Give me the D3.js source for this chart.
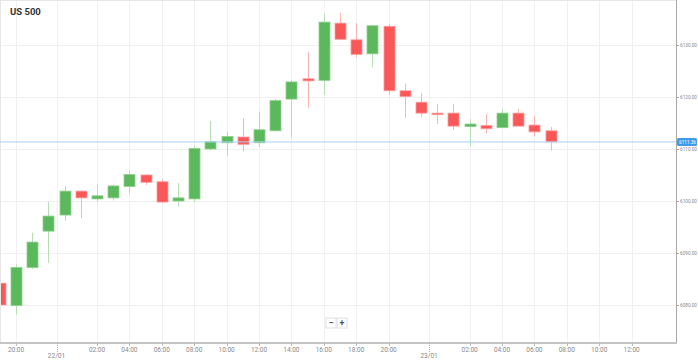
<!DOCTYPE html>
<html>
<head>
<meta charset="utf-8">
<script src="https://cdn.jsdelivr.net/npm/d3@7"></script>
<style>
  body { margin: 0; background: #fff; }
  svg { display: block; font-family: Roboto, "Open Sans", sans-serif; }
</style>
</head>
<body>
<div id="chart"></div>
<script>
// hourly candles, index 0 = 21/01 20:00 (one hour missing at each day break)
var candleIndex = d3.range(-1, 34);
var opens  = [6084.2, 6079.9, 6087.2, 6094.2, 6097.3, 6101.9, 6100.4, 6100.6, 6102.8, 6105.0, 6103.7, 6100.0, 6100.4, 6110.0, 6111.2, 6112.3, 6111.2, 6113.5, 6119.6, 6123.5, 6123.2, 6134.2, 6131.0, 6128.3, 6133.6, 6121.2, 6119.0, 6116.9, 6116.9, 6114.3, 6114.5, 6114.1, 6116.9, 6114.6, 6113.5];
var highs  = [6084.2, 6087.8, 6093.9, 6099.8, 6102.8, 6101.9, 6103.1, 6103.2, 6105.8, 6105.1, 6104.2, 6103.4, 6110.6, 6115.4, 6113.3, 6115.9, 6117.2, 6119.6, 6123.3, 6128.7, 6136.0, 6136.2, 6134.2, 6133.9, 6134.0, 6122.6, 6120.7, 6118.7, 6118.7, 6115.7, 6116.7, 6117.5, 6117.7, 6116.4, 6114.2];
var lows   = [6080.0, 6078.2, 6086.9, 6088.1, 6096.2, 6096.7, 6099.9, 6100.1, 6101.4, 6103.1, 6099.7, 6098.9, 6099.8, 6109.7, 6108.7, 6109.5, 6110.4, 6113.4, 6112.2, 6117.9, 6120.4, 6131.1, 6127.6, 6125.7, 6120.4, 6116.0, 6116.2, 6114.8, 6113.7, 6110.6, 6113.0, 6114.1, 6114.4, 6112.4, 6109.7];
var closes = [6080.0, 6087.2, 6092.1, 6097.1, 6101.9, 6100.6, 6101.0, 6102.9, 6105.1, 6103.6, 6099.8, 6100.6, 6110.1, 6111.4, 6112.4, 6110.9, 6113.7, 6119.3, 6122.9, 6123.1, 6134.4, 6131.1, 6128.2, 6133.7, 6121.2, 6120.1, 6116.9, 6116.6, 6114.4, 6114.8, 6113.9, 6116.9, 6114.4, 6113.3, 6111.36];

var timeTickPos    = [0, 5, 7, 9, 11, 13, 15, 17, 19, 21, 23, 28, 30, 32, 34, 36, 38];
var timeTickLabels = ["20:00", "02:00", "04:00", "06:00", "08:00", "10:00", "12:00", "14:00", "16:00", "18:00", "20:00", "02:00", "04:00", "06:00", "08:00", "10:00", "12:00"];
var dateTickPos    = [2.5, 25.5];
var dateTickLabels = ["22/01", "23/01"];
var priceTicks     = [6080, 6090, 6100, 6110, 6120, 6130];
var lastPrice      = 6111.36;
var title          = "US 500";

var W = 698, H = 360;
var plotRight = 676, plotBottom = 343;

var svg = d3.select("#chart").append("svg")
    .attr("width", W)
    .attr("height", H);

var x = d3.scaleLinear().domain([0, 38]).range([16, 631.6]);
var y = d3.scaleLinear().domain([6080, 6130]).range([305, 45]);

var plot = svg.append("g");

// grid
plot.selectAll(".hgrid").data(priceTicks).enter().append("line")
    .attr("x1", 0).attr("x2", plotRight)
    .attr("y1", d => Math.round(y(d)) + 0.5).attr("y2", d => Math.round(y(d)) + 0.5)
    .attr("stroke", "#f0f0f0");
plot.selectAll(".vgrid").data(timeTickPos.concat(dateTickPos)).enter().append("line")
    .attr("x1", d => Math.round(x(d)) + 0.5).attr("x2", d => Math.round(x(d)) + 0.5)
    .attr("y1", 0).attr("y2", plotBottom)
    .attr("stroke", "#f0f0f0");

// frame
svg.append("line").attr("x1", 0).attr("x2", plotRight).attr("y1", 0.5).attr("y2", 0.5).attr("stroke", "#e6e6e6");
svg.append("line").attr("x1", 0.5).attr("x2", 0.5).attr("y1", 0).attr("y2", plotBottom).attr("stroke", "#e6e6e6");

// candles
svg.append("clipPath").attr("id", "clip")
  .append("rect").attr("x", 0).attr("y", 0).attr("width", plotRight).attr("height", plotBottom);

var candles = plot.append("g").attr("clip-path", "url(#clip)")
  .selectAll("g").data(candleIndex).enter().append("g");

var up = (d, k) => closes[k] >= opens[k];

candles.append("line")
    .attr("x1", d => Math.round(x(d)) + 0.5)
    .attr("x2", d => Math.round(x(d)) + 0.5)
    .attr("y1", (d, k) => y(highs[k]))
    .attr("y2", (d, k) => y(lows[k]))
    .attr("stroke", (d, k) => up(d, k) ? "#b3ddb3" : "#fbb4b4")
    .attr("stroke-width", 1);

candles.append("rect")
    .attr("x", d => Math.round(x(d)) - 5)
    .attr("width", 11)
    .attr("y", (d, k) => y(Math.max(opens[k], closes[k])))
    .attr("height", (d, k) => Math.max(1.5, Math.abs(y(opens[k]) - y(closes[k]))))
    .attr("fill", (d, k) => up(d, k) ? "#5cb85c" : "#fa5858")
    .attr("stroke", (d, k) => up(d, k) ? "#8fd08f" : "#fc9a9a")
    .attr("stroke-width", 0.8);

// last price line
svg.append("line")
    .attr("x1", 0).attr("x2", plotRight)
    .attr("y1", y(lastPrice)).attr("y2", y(lastPrice))
    .attr("stroke", "#a9d3f3").attr("stroke-width", 1);

// axes
svg.append("line")
    .attr("x1", plotRight + 0.5).attr("x2", plotRight + 0.5)
    .attr("y1", 0).attr("y2", plotBottom + 1)
    .attr("stroke", "#a8a8a8");
svg.append("line")
    .attr("x1", 0).attr("x2", plotRight + 1)
    .attr("y1", plotBottom).attr("y2", plotBottom)
    .attr("stroke", "#c4c4c4").attr("stroke-width", 2);

var yAxis = svg.append("g");
yAxis.selectAll("line").data(priceTicks).enter().append("line")
    .attr("x1", plotRight).attr("x2", plotRight + 3)
    .attr("y1", d => Math.round(y(d)) + 0.5).attr("y2", d => Math.round(y(d)) + 0.5)
    .attr("stroke", "#a8a8a8");
yAxis.selectAll("text").data(priceTicks).enter().append("text")
    .attr("x", plotRight + 4).attr("y", d => y(d) + 2)
    .attr("font-size", 5.2).attr("fill", "#888")
    .attr("textLength", 17).attr("lengthAdjust", "spacingAndGlyphs")
    .text(d => d3.format(".2f")(d));

// last price tag
svg.append("rect")
    .attr("x", plotRight + 1).attr("y", y(lastPrice) - 4)
    .attr("width", W - plotRight - 2).attr("height", 8).attr("rx", 1.5)
    .attr("fill", "#3d9be9");
svg.append("text")
    .attr("x", plotRight + 3).attr("y", y(lastPrice) + 2)
    .attr("font-size", 5.2).attr("fill", "#fff")
    .attr("textLength", 17).attr("lengthAdjust", "spacingAndGlyphs")
    .text(d3.format(".2f")(lastPrice));

var xAxis = svg.append("g");
xAxis.selectAll(".tt").data(timeTickPos).enter().append("line")
    .attr("x1", d => Math.round(x(d)) + 0.5).attr("x2", d => Math.round(x(d)) + 0.5)
    .attr("y1", plotBottom).attr("y2", plotBottom + 3)
    .attr("stroke", "#bbb");
xAxis.selectAll(".tl").data(timeTickPos).enter().append("text")
    .attr("x", d => x(d)).attr("y", plotBottom + 9)
    .attr("text-anchor", "middle").attr("font-size", 6.5).attr("fill", "#888")
    .text((d, k) => timeTickLabels[k]);
xAxis.selectAll(".dt").data(dateTickPos).enter().append("line")
    .attr("x1", d => Math.round(x(d)) + 0.5).attr("x2", d => Math.round(x(d)) + 0.5)
    .attr("y1", plotBottom).attr("y2", plotBottom + 9)
    .attr("stroke", "#aaa").attr("stroke-dasharray", "1,1");
xAxis.selectAll(".dl").data(dateTickPos).enter().append("text")
    .attr("x", d => x(d)).attr("y", plotBottom + 15)
    .attr("text-anchor", "middle").attr("font-size", 6.5).attr("fill", "#888")
    .text((d, k) => dateTickLabels[k]);

// title
svg.append("text")
    .attr("x", 10).attr("y", 15)
    .attr("font-size", 9.5).attr("font-weight", "bold").attr("fill", "#333")
    .text(title);

// zoom buttons
var zoomBtns = svg.append("g").attr("transform", "translate(326,318)");
["\u2212", "+"].forEach(function(s, k) {
  zoomBtns.append("rect")
      .attr("x", k * 11).attr("y", 0).attr("width", 10).attr("height", 10)
      .attr("fill", "#fff").attr("stroke", "#e0e0e0");
  zoomBtns.append("text")
      .attr("x", k * 11 + 5).attr("y", 8).attr("text-anchor", "middle")
      .attr("font-size", 9).attr("font-weight", "bold").attr("fill", "#555")
      .text(s);
});
</script>
</body>
</html>
